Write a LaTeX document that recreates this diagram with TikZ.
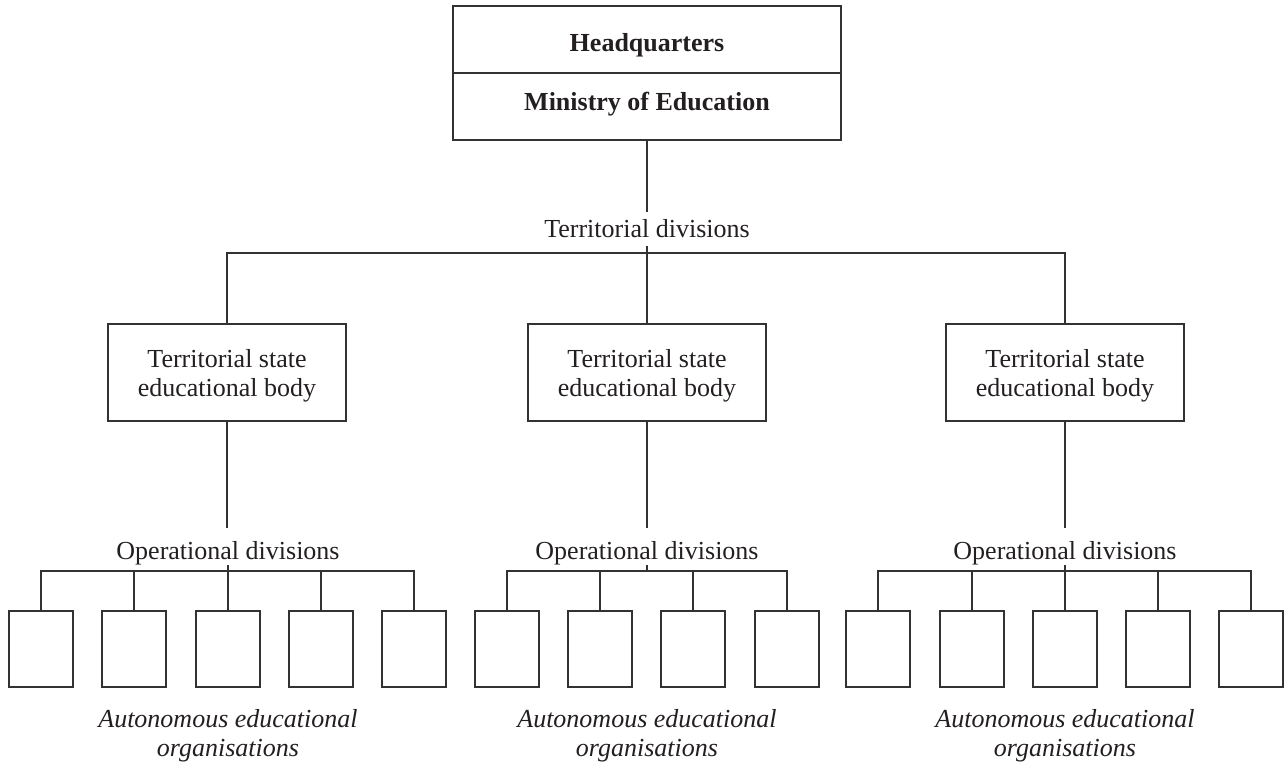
\documentclass[tikz,border=0pt]{standalone}
\usepackage{fontspec}
\setmainfont{Liberation Serif}
\definecolor{ink}{RGB}{35,31,32}
\definecolor{rule}{RGB}{50,50,50}
\tikzset{
  every node/.style={text=ink, font=\fontsize{26}{29}\selectfont},
  wire/.style={draw=rule, line width=1.8pt},
  hqbox/.style={draw=rule, line width=1.8pt, minimum width=388pt, minimum height=67pt,
                inner sep=0pt, font=\fontsize{26}{29}\selectfont\bfseries},
  bodybox/.style={draw=rule, line width=1.8pt, minimum width=238pt, minimum height=97pt,
                  inner sep=0pt, align=center},
  unitbox/.style={draw=rule, line width=1.8pt, minimum width=64pt, minimum height=76pt, inner sep=0pt},
  tierlabel/.style={inner sep=0pt, anchor=base},
  orglabel/.style={inner sep=0pt, align=center, font=\fontsize{26}{29}\selectfont\itshape}
}
\begin{document}
\begin{tikzpicture}[x=1pt, y=-1pt]
\useasboundingbox (0,0) rectangle (1285,762);

% headquarters
\node[hqbox, text height=24pt, text depth=0pt] (hq) at (647,39.5) {Headquarters};
\node[hqbox, text height=20pt, text depth=11pt] (mo) at (647,106.5) {Ministry of Education};

% territorial level
\node[tierlabel, text height=25pt, text depth=9pt] (tdiv) at (647,237) {Territorial divisions};
\coordinate (tbar) at (647,253);

\node[bodybox, text depth=0pt] (bA) at (227,372.5) {Territorial state\\educational body};
\node[bodybox, text depth=0pt] (bB) at (647,372.5) {Territorial state\\educational body};
\node[bodybox, text depth=0pt] (bC) at (1065,372.5) {Territorial state\\educational body};

\draw[wire] (mo.south) -- (tdiv.north);
\draw[wire] (tdiv.south) -- (tbar);
\draw[wire] (bA.north) |- (tbar) -| (bC.north);
\draw[wire] (tbar) -- (bB.north);

% operational level
\node[tierlabel, text height=31pt, text depth=6pt] (opA) at (228,559) {Operational divisions};
\node[tierlabel, text height=31pt, text depth=6pt] (opB) at (647,559) {Operational divisions};
\node[tierlabel, text height=31pt, text depth=6pt] (opC) at (1065,559) {Operational divisions};
\coordinate (obA) at (228,571);
\coordinate (obB) at (647,571);
\coordinate (obC) at (1065,571);

\foreach \g in {A,B,C}{
  \draw[wire] (b\g.south) -- (b\g.south |- op\g.north);
  \draw[wire] (op\g.south) -- (ob\g);
}

% autonomous organisations
\foreach \x [count=\i] in {41,134,228,321,414}
  \node[unitbox] (uA\i) at (\x,649) {};
\foreach \x [count=\i] in {507,600,693,787}
  \node[unitbox] (uB\i) at (\x,649) {};
\foreach \x [count=\i] in {878,972,1065,1158,1251}
  \node[unitbox] (uC\i) at (\x,649) {};

\draw[wire] (uA1.north) |- (obA) -| (uA5.north);
\foreach \i in {2,3,4} \draw[wire] (uA\i.north) -- (uA\i.north |- obA);
\draw[wire] (uB1.north) |- (obB) -| (uB4.north);
\foreach \i in {2,3} \draw[wire] (uB\i.north) -- (uB\i.north |- obB);
\draw[wire] (uC1.north) |- (obC) -| (uC5.north);
\foreach \i in {2,3,4} \draw[wire] (uC\i.north) -- (uC\i.north |- obC);

\node[orglabel] (oA) at (228,735.5)  {Autonomous educational\\organisations};
\node[orglabel] (oB) at (647,735.5)  {Autonomous educational\\organisations};
\node[orglabel] (oC) at (1065,735.5) {Autonomous educational\\organisations};
\end{tikzpicture}
\end{document}
